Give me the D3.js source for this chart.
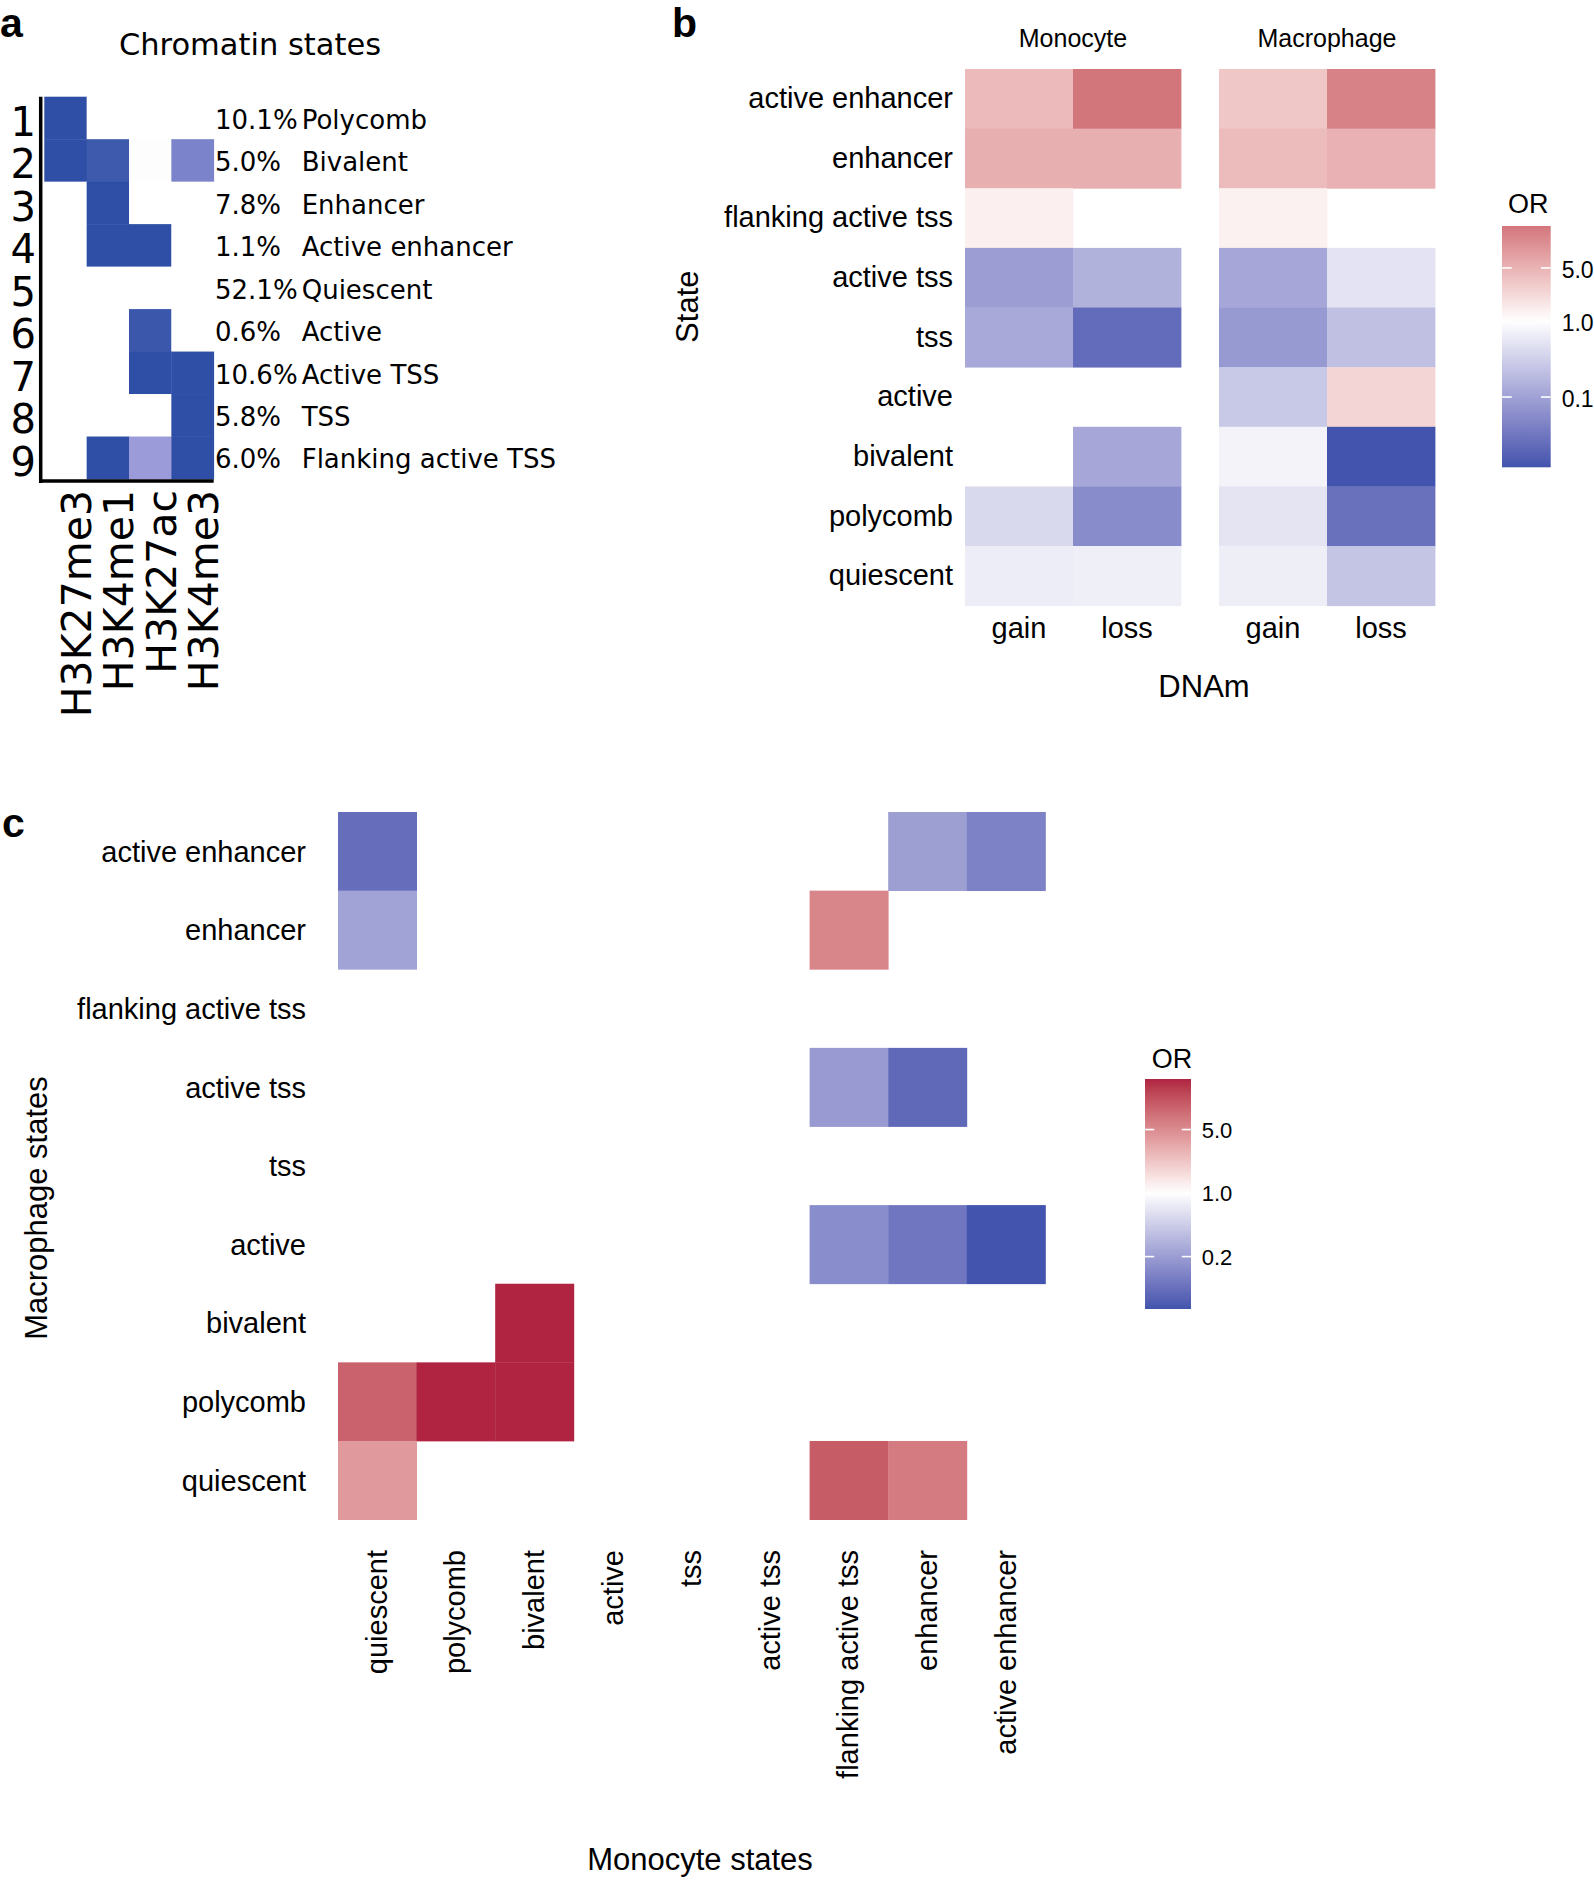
<!DOCTYPE html>
<html><head><meta charset="utf-8">
<script src="https://cdn.jsdelivr.net/npm/d3@7"></script>
<style>html,body{margin:0;padding:0;background:#fff;} svg{display:block;}</style>
</head><body><div id="chart"></div>
<script>
// ---------------- DATA ----------------
// Panel a: ChromHMM emission probabilities
const aStateIds = ["1","2","3","4","5","6","7","8","9"];
const aStates = ["Polycomb","Bivalent","Enhancer","Active enhancer","Quiescent","Active","Active TSS","TSS","Flanking active TSS"];
const aPercent = ["10.1%","5.0%","7.8%","1.1%","52.1%","0.6%","10.6%","5.8%","6.0%"];
const aMarks = ["H3K27me3","H3K4me1","H3K27ac","H3K4me3"];
const aEmission = [
  [1.00, 0.00, 0.00, 0.00],
  [1.00, 0.93, 0.01, 0.65],
  [0.00, 1.00, 0.00, 0.00],
  [0.00, 1.00, 1.00, 0.00],
  [0.00, 0.00, 0.00, 0.00],
  [0.00, 0.00, 0.95, 0.00],
  [0.00, 0.00, 1.00, 1.00],
  [0.00, 0.00, 0.00, 1.00],
  [0.00, 1.00, 0.50, 1.00]
];

// Panel b: odds ratios of DNAm change per state
const bStates = ["active enhancer","enhancer","flanking active tss","active tss","tss","active","bivalent","polycomb","quiescent"];
const bCellTypes = ["Monocyte","Macrophage"];
const bDnam = ["gain","loss"];
const bMonocyteGain   = [4.24, 5.4, 1.39, 0.088, 0.12, null, null, 0.40, 0.65];
const bMonocyteLoss   = [17.8, 5.3, null, 0.15, 0.0235, null, 0.116, 0.057, 0.68];
const bMacrophageGain = [3.25, 4.1, 1.33, 0.115, 0.080, 0.262, 0.76, 0.52, 0.66];
const bMacrophageLoss = [13.9, 5.1, null, 0.51, 0.216, 2.41, 0.0119, 0.027, 0.237];
const bLegendTicks = [0.1, 1.0, 5.0];

// Panel c: state transitions Monocyte (x) -> Macrophage (y)
const cMacroStates = ["active enhancer","enhancer","flanking active tss","active tss","tss","active","bivalent","polycomb","quiescent"];
const cMonoStates = ["quiescent","polycomb","bivalent","active","tss","active tss","flanking active tss","enhancer","active enhancer"];
const cOR = [
  [0.087, null, null, null, null, null, null, 0.206, 0.123],
  [0.218, null, null, null, null, null, 5.4, null, null],
  [null, null, null, null, null, null, null, null, null],
  [null, null, null, null, null, null, 0.19, 0.079, null],
  [null, null, null, null, null, null, null, null, null],
  [null, null, null, null, null, null, 0.151, 0.101, 0.053],
  [null, null, 18, null, null, null, null, null, null],
  [8.8, 18, 18, null, null, null, null, null, null],
  [4.1, null, null, null, null, null, 9.6, 6.3, null]
];
const cLegendTicks = [0.2, 1.0, 5.0];

// ---------------- RENDER ----------------
const W = 1594, H = 1882;
const FONT = "'Liberation Sans', Arial, Helvetica, sans-serif";
const FONTA = "'DejaVu Sans', sans-serif";
const LOW = "#4254AD", HIGH = "#AE1E3F";

const svg = d3.select("#chart").append("svg").attr("width", W).attr("height", H);
svg.append("rect").attr("width", W).attr("height", H).attr("fill", "#fff");
const defs = svg.append("defs");

function gradient2(maxabs) {
  return v => {
    const l = Math.log(v);
    return l >= 0 ? d3.interpolateLab("#ffffff", HIGH)(Math.min(1, l / maxabs))
                  : d3.interpolateLab("#ffffff", LOW)(Math.min(1, -l / maxabs));
  };
}

function panelLabel(t, x, y) {
  svg.append("text").attr("x", x).attr("y", y).text(t)
    .style("font-family", FONT).style("font-weight", "bold").style("font-size", "41px");
}

// ===== Panel a =====
panelLabel("a", 0, 37);
const gA = svg.append("g");
const xA = d3.scaleBand().domain(aMarks).range([44.3, 213.7]);
const yA = d3.scaleBand().domain(aStateIds).range([96.7, 479]);
const colA = d3.scaleLinear().domain([0, 0.5, 1]).range(["#ffffff", "#9c9bd9", "#2f4fa6"]);
const aCells = [];
aEmission.forEach((row, i) => row.forEach((v, j) => aCells.push({ s: aStateIds[i], m: aMarks[j], v })));
gA.selectAll("rect.a").data(aCells).join("rect")
  .attr("x", d => xA(d.m)).attr("y", d => yA(d.s))
  .attr("width", xA.bandwidth() + 0.4).attr("height", yA.bandwidth() + 0.4)
  .attr("fill", d => colA(d.v));
gA.append("line").attr("x1", 40.7).attr("x2", 40.7).attr("y1", 96.7).attr("y2", 483)
  .attr("stroke", "#000").attr("stroke-width", 3.5);
gA.append("line").attr("x1", 39).attr("x2", 213.7).attr("y1", 481).attr("y2", 481)
  .attr("stroke", "#000").attr("stroke-width", 3.5);
gA.append("text").attr("x", 250).attr("y", 55).attr("text-anchor", "middle")
  .style("font-family", FONTA).style("font-size", "30.5px").text("Chromatin states");
gA.selectAll("text.num").data(aStateIds).join("text").attr("class", "num")
  .attr("x", 36).attr("y", d => yA(d) + yA.bandwidth() / 2 + 18).attr("text-anchor", "end")
  .style("font-family", FONTA).style("font-size", "40px").text(d => d);
gA.selectAll("text.pct").data(aPercent).join("text").attr("class", "pct")
  .attr("x", 215).attr("y", (d, i) => yA(aStateIds[i]) + yA.bandwidth() / 2 + 10.7)
  .style("font-family", FONTA).style("font-size", "26px").text(d => d);
gA.selectAll("text.nm").data(aStates).join("text").attr("class", "nm")
  .attr("x", 301.7).attr("y", (d, i) => yA(aStateIds[i]) + yA.bandwidth() / 2 + 10.7)
  .style("font-family", FONTA).style("font-size", "26px").text(d => d);
gA.selectAll("text.mk").data(aMarks).join("text").attr("class", "mk")
  .attr("transform", d => `translate(${xA(d) + xA.bandwidth() / 2 + 25.5},490) rotate(-90)`)
  .attr("text-anchor", "end")
  .style("font-family", FONTA).style("font-size", "41px").text(d => d);

// ===== Legend helper =====
function drawLegend(id, g, o) {
  const ext = o.extent; // [min,max] OR
  const ys = d3.scaleLog().domain(ext).range([o.y1, o.y0]);
  const grad = defs.append("linearGradient").attr("id", id)
    .attr("x1", 0).attr("y1", 1).attr("x2", 0).attr("y2", 0);
  const N = 40;
  const lmin = Math.log(ext[0]), lmax = Math.log(ext[1]);
  for (let k = 0; k <= N; k++) {
    grad.append("stop").attr("offset", k / N).attr("stop-color", o.color(Math.exp(lmin + (lmax - lmin) * k / N)));
  }
  g.append("rect").attr("x", o.x).attr("y", o.y0).attr("width", o.w).attr("height", o.y1 - o.y0)
    .attr("fill", `url(#${id})`);
  const tl = o.w * 0.2;
  o.ticks.forEach(t => {
    const y = ys(t);
    g.append("line").attr("x1", o.x).attr("x2", o.x + tl).attr("y1", y).attr("y2", y)
      .attr("stroke", "#fff").attr("stroke-width", 1.6);
    g.append("line").attr("x1", o.x + o.w - tl).attr("x2", o.x + o.w).attr("y1", y).attr("y2", y)
      .attr("stroke", "#fff").attr("stroke-width", 1.6);
    g.append("text").attr("x", o.labelX).attr("y", y + o.labelDy)
      .style("font-family", FONT).style("font-size", o.fs + "px").text(d3.format(".1f")(t));
  });
  g.append("text").attr("x", o.titleX).attr("y", o.titleY)
    .style("font-family", FONT).style("font-size", "27px").text("OR");
}

// ===== Panel b =====
panelLabel("b", 672, 37);
const gB = svg.append("g");
const yB = d3.scaleBand().domain(bStates).range([69, 605.7]);
const xBRanges = { Monocyte: [965, 1181], Macrophage: [1219, 1435] };
const bSeries = { Monocyte: { gain: bMonocyteGain, loss: bMonocyteLoss }, Macrophage: { gain: bMacrophageGain, loss: bMacrophageLoss } };
const bAll = [].concat(bMonocyteGain, bMonocyteLoss, bMacrophageGain, bMacrophageLoss).filter(v => v != null);
const bExt = d3.extent(bAll);
const bMaxAbs = d3.max(bExt, v => Math.abs(Math.log(v)));
const colB = gradient2(bMaxAbs);
bCellTypes.forEach(ct => {
  const xb = d3.scaleBand().domain(bDnam).range(xBRanges[ct]);
  const cells = [];
  bDnam.forEach(dn => bSeries[ct][dn].forEach((v, i) => { if (v != null) cells.push({ dn, s: bStates[i], v }); }));
  gB.append("g").selectAll("rect").data(cells).join("rect")
    .attr("x", d => xb(d.dn)).attr("y", d => yB(d.s))
    .attr("width", xb.bandwidth() + 0.4).attr("height", yB.bandwidth() + 0.4)
    .attr("fill", d => colB(d.v));
  const ax = gB.append("g").attr("transform", "translate(0,605.7)")
    .call(d3.axisBottom(xb).tickSize(0).tickPadding(11.7));
  ax.select(".domain").remove();
  ax.selectAll("text").style("font-family", FONT).style("font-size", "29px").attr("fill", "#000");
  gB.append("text").attr("x", (xBRanges[ct][0] + xBRanges[ct][1]) / 2).attr("y", 46.7)
    .attr("text-anchor", "middle").style("font-family", FONT).style("font-size", "25px").text(ct);
});
const ayB = gB.append("g").attr("transform", "translate(965,0)")
  .call(d3.axisLeft(yB).tickSize(0).tickPadding(12));
ayB.select(".domain").remove();
ayB.selectAll("text").style("font-family", FONT).style("font-size", "29px").attr("fill", "#000");
gB.append("text").attr("transform", "translate(698,306.7) rotate(-90)").attr("text-anchor", "middle")
  .style("font-family", FONT).style("font-size", "31px").text("State");
gB.append("text").attr("x", 1204).attr("y", 696.7).attr("text-anchor", "middle")
  .style("font-family", FONT).style("font-size", "31px").text("DNAm");
drawLegend("gradB", gB, { extent: bExt, color: colB, x: 1502, w: 48.7, y0: 226, y1: 467.3,
  ticks: bLegendTicks, labelX: 1561.7, labelDy: 10, fs: 23, titleX: 1508, titleY: 213.3 });

// ===== Panel c =====
panelLabel("c", 2, 837);
const gC = svg.append("g");
const xC = d3.scaleBand().domain(cMonoStates).range([338, 1045.4]);
const yC = d3.scaleBand().domain(cMacroStates).range([812, 1519.6]);
const cAll = cOR.flat().filter(v => v != null);
const cExt = d3.extent(cAll);
const cMaxAbs = d3.max(cExt, v => Math.abs(Math.log(v)));
const colC = gradient2(cMaxAbs);
const cCells = [];
cOR.forEach((row, i) => row.forEach((v, j) => { if (v != null) cCells.push({ y: cMacroStates[i], x: cMonoStates[j], v }); }));
gC.selectAll("rect").data(cCells).join("rect")
  .attr("x", d => xC(d.x)).attr("y", d => yC(d.y))
  .attr("width", xC.bandwidth() + 0.4).attr("height", yC.bandwidth() + 0.4)
  .attr("fill", d => colC(d.v));
const ayC = gC.append("g").attr("transform", "translate(338,0)")
  .call(d3.axisLeft(yC).tickSize(0).tickPadding(32));
ayC.select(".domain").remove();
ayC.selectAll("text").style("font-family", FONT).style("font-size", "29px").attr("fill", "#000").attr("dy", "0.36em");
const axC = gC.append("g").attr("transform", "translate(0,1519.6)")
  .call(d3.axisBottom(xC).tickSize(0));
axC.select(".domain").remove();
axC.selectAll("text").style("font-family", FONT).style("font-size", "29px").attr("fill", "#000")
  .attr("transform", "rotate(-90)").attr("x", -30.4).attr("y", 0).attr("dy", "0.33em")
  .style("text-anchor", "end");
gC.append("text").attr("transform", "translate(47,1208) rotate(-90)").attr("text-anchor", "middle")
  .style("font-family", FONT).style("font-size", "31px").text("Macrophage states");
gC.append("text").attr("x", 700).attr("y", 1870).attr("text-anchor", "middle")
  .style("font-family", FONT).style("font-size", "31px").text("Monocyte states");
drawLegend("gradC", gC, { extent: cExt, color: colC, x: 1145, w: 46, y0: 1079, y1: 1309,
  ticks: cLegendTicks, labelX: 1201.7, labelDy: 8.3, fs: 22, titleX: 1151.7, titleY: 1068.3 });
</script>
</body></html>
